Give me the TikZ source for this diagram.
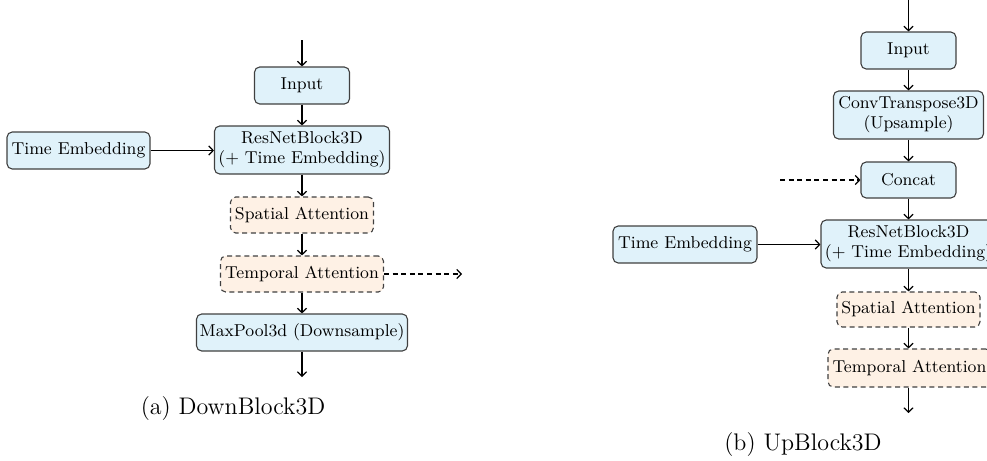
\documentclass[tikz,border=0pt]{standalone}
\usetikzlibrary{arrows.meta}
\definecolor{boxblue}{RGB}{224,242,250}
\definecolor{boxorange}{RGB}{254,241,229}
\begin{document}
\begin{tikzpicture}[x=0.5pt,y=-0.5pt,
  base/.style={rectangle, rounded corners=2.6pt, draw=black!75, line width=0.55pt,
    inner sep=0pt, align=center, font=\fontsize{8.6}{10}\selectfont},
  blk/.style={base, fill=boxblue},
  att/.style={base, fill=boxorange, dash pattern=on 2.5pt off 1.8pt},
  conn/.style={-{Straight Barb[width=4.6pt,length=2.2pt,line width=0.6pt]}, line width=0.6pt, black},
  skip/.style={conn, dash pattern=on 2.5pt off 1.8pt},
  captext/.style={font=\fontsize{12}{14}\selectfont}]
\useasboundingbox (0,0) rectangle (987,461);
% ---------- (a) DownBlock3D ----------
\node[blk, minimum width=47.5pt, minimum height=18.5pt] (inA) at (302,85.5) {Input};
\node[blk, minimum width=87.5pt, minimum height=24pt] (resA) at (302,150) {ResNetBlock3D\\(+ Time Embedding)};
\node[blk, minimum width=71.5pt, minimum height=18.5pt] (teA) at (78.5,150.5) {Time Embedding};
\node[att, minimum width=71.5pt, minimum height=18pt] (spA) at (302,215) {Spatial Attention};
\node[att, minimum width=81.5pt, minimum height=18pt] (tpA) at (302,274) {Temporal Attention};
\node[blk, minimum width=105.5pt, minimum height=18.5pt] (mpA) at (302,332.5) {MaxPool3d (Downsample)};
\coordinate (topA) at (302,40);
\coordinate (botA) at (302,377);
\coordinate (outA) at (462,274);
\draw[conn] (topA) -- (inA.north);
\draw[conn] (inA) -- (resA);
\draw[conn] (teA) -- (resA.west |- teA.east);
\draw[conn] (resA) -- (spA);
\draw[conn] (spA) -- (tpA);
\draw[conn] (tpA) -- (mpA);
\draw[conn] (mpA.south) -- (botA);
\draw[skip] (tpA.east) -- (outA);
\node[captext] (capA) at (233,409) {(a) DownBlock3D};
% ---------- (b) UpBlock3D ----------
\node[blk, minimum width=47.5pt, minimum height=18.5pt] (inB) at (908.5,50.5) {Input};
\node[blk, minimum width=75pt, minimum height=24pt] (ctB) at (908.5,115) {ConvTranspose3D\\(Upsample)};
\node[blk, minimum width=47.5pt, minimum height=18pt] (ccB) at (908.5,180) {Concat};
\node[blk, minimum width=87.5pt, minimum height=24pt] (resB) at (908.5,244) {ResNetBlock3D\\(+ Time Embedding)};
\node[blk, minimum width=72pt, minimum height=18.5pt] (teB) at (685,244.5) {Time Embedding};
\node[att, minimum width=71.5pt, minimum height=17.5pt] (spB) at (908.5,309.5) {Spatial Attention};
\node[att, minimum width=81.5pt, minimum height=19pt] (tpB) at (909.5,368) {Temporal Attention};
\coordinate (topB) at (908.5,0);
\coordinate (botB) at (908.5,413);
\coordinate (inSkip) at (780,180);
\draw[conn] (topB) -- (inB.north);
\draw[conn] (inB) -- (ctB);
\draw[conn] (ctB) -- (ccB);
\draw[conn] (ccB) -- (resB);
\draw[conn] (teB) -- (resB.west |- teB.east);
\draw[conn] (resB) -- (spB);
\draw[conn] (spB) -- (tpB.north -| spB.south);
\draw[conn] (tpB.south -| spB.south) -- (botB);
\draw[skip] (inSkip) -- (ccB.west);
\node[captext] (capB) at (803,445) {(b) UpBlock3D};
\end{tikzpicture}
\end{document}
